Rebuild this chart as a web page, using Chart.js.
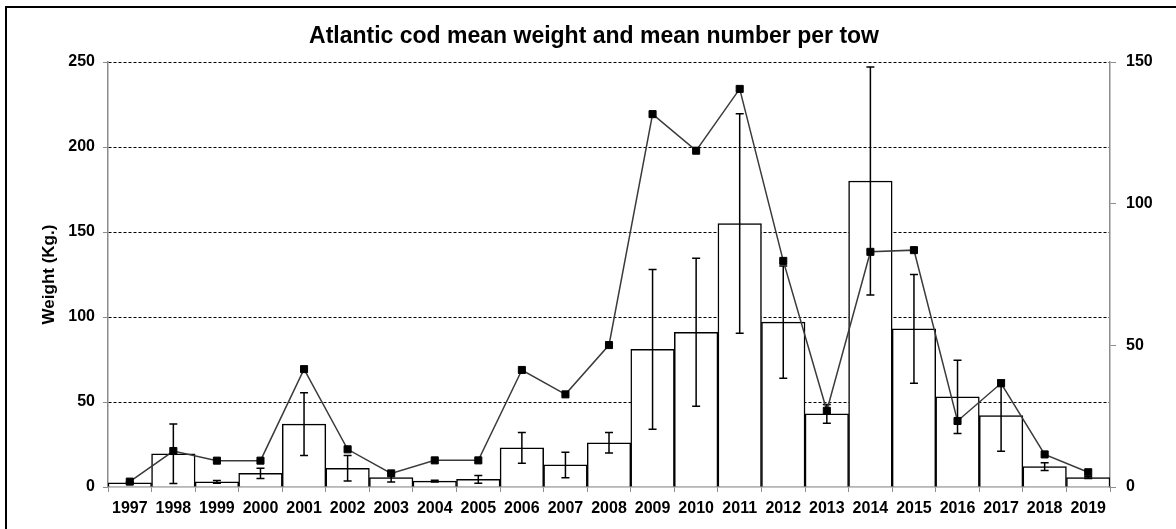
<!DOCTYPE html>
<html>
<head>
<meta charset="utf-8">
<script src="https://cdn.jsdelivr.net/npm/chart.js@4"></script>
<style>
    html, body { margin: 0; padding: 0; background: #fff; overflow: hidden; }
    #wrap { position: relative; width: 1176px; height: 529px; }
    #frame {
        position: absolute; left: 5px; top: 6px; width: 1180px; height: 540px;
        border-top: 2px solid #000; border-left: 2px solid #000; pointer-events: none;
    }
</style>
</head>
<body>
<div id="wrap">
    <canvas id="chart" width="1176" height="529"></canvas>
    <div id="frame"></div>
</div>
<script>
var years = ['1997', '1998', '1999', '2000', '2001', '2002', '2003', '2004', '2005', '2006', '2007', '2008',
    '2009', '2010', '2011', '2012', '2013', '2014', '2015', '2016', '2017', '2018', '2019'];

// mean weight per tow (kg), left axis
var weight = [2.5, 19.5, 3, 8, 37, 11, 5.5, 3.5, 4.5, 23, 13, 26,
    81, 91, 155, 97, 43, 180, 93, 53, 42, 12, 5.5];

// +/- error on the weight
var weightErr = [0.5, 17.5, 0.8, 3, 18.5, 7.5, 2.5, 0.5, 2.3, 9, 7.5, 6,
    47, 43.5, 64.5, 33, 5.5, 67, 32, 21.5, 21, 2.3, 0.5];

// mean number per tow, right axis
var number = [1.9, 12.7, 9.3, 9.3, 41.6, 13.3, 4.8, 9.4, 9.4, 41.3, 32.7, 50.1,
    131.6, 118.7, 140.5, 79.8, 26.9, 83, 83.6, 23.3, 36.6, 11.5, 5.2];

var FONT = '"Liberation Sans", Arial, sans-serif';
var AXIS_GRAY = '#8c8c8c';

// draws the error bars right after the bars, before the line
var errorBars = {
    id: 'errorBars',
    afterDatasetDraw: function (chart, args) {
        if (args.index !== 0) return;
        var yScale = chart.scales.y;
        var ctx = chart.ctx;
        ctx.save();
        ctx.strokeStyle = '#000';
        ctx.lineWidth = 1.5;
        args.meta.data.forEach(function (bar, i) {
            var hi = yScale.getPixelForValue(weight[i] + weightErr[i]);
            var lo = yScale.getPixelForValue(Math.max(0, weight[i] - weightErr[i]));
            var x = bar.x;
            ctx.beginPath();
            ctx.moveTo(x, hi); ctx.lineTo(x, lo);
            ctx.moveTo(x - 4, hi); ctx.lineTo(x + 4, hi);
            ctx.moveTo(x - 4, lo); ctx.lineTo(x + 4, lo);
            ctx.stroke();
        });
        ctx.restore();
    }
};

new Chart(document.getElementById('chart').getContext('2d'), {
    type: 'bar',
    data: {
        labels: years,
        datasets: [{
            type: 'bar',
            label: 'Mean weight',
            data: weight,
            yAxisID: 'y',
            backgroundColor: '#fff',
            borderColor: '#000',
            borderWidth: 1.5,
            categoryPercentage: 1,
            barPercentage: 1,
            order: 1
        }, {
            type: 'line',
            label: 'Mean number',
            data: number,
            yAxisID: 'y1',
            borderColor: '#3a3a3a',
            borderWidth: 1.5,
            pointStyle: 'rect',
            pointRadius: 5,
            pointBackgroundColor: '#000',
            pointBorderColor: '#000',
            pointBorderWidth: 1,
            tension: 0,
            order: 0
        }]
    },
    options: {
        responsive: false,
        animation: false,
        layout: { padding: { left: 12, right: 0, top: 0, bottom: 0 } },
        plugins: {
            legend: { display: false },
            tooltip: { enabled: false },
            title: {
                display: true,
                text: 'Atlantic cod mean weight and mean number per tow',
                color: '#000',
                font: { family: FONT, size: 23, weight: 'bold' },
                padding: { top: 23, bottom: 11.4 }
            }
        },
        scales: {
            x: {
                offset: true,
                afterFit: function (s) { s.height = 42; },
                grid: { offset: true, drawOnChartArea: false, color: AXIS_GRAY, tickLength: 5 },
                border: { color: AXIS_GRAY, width: 1.5 },
                ticks: { color: '#000', padding: 7, maxRotation: 0, autoSkip: false,
                    font: { family: FONT, size: 16, weight: 'bold' } }
            },
            y: {
                position: 'left',
                min: 0, max: 250,
                afterFit: function (s) { s.width = 96; },
                grid: {
                    color: function (c) { return c.tick && c.tick.value === 0 ? 'rgba(0,0,0,0)' : '#000'; },
                    tickColor: AXIS_GRAY,
                    tickLength: 5,
                    lineWidth: 1
                },
                border: { color: AXIS_GRAY, width: 1.5, dash: [3, 2] },
                ticks: { stepSize: 50, color: '#000', padding: 8,
                    font: { family: FONT, size: 16, weight: 'bold' } },
                title: {
                    display: true,
                    text: 'Weight (Kg.)',
                    color: '#000',
                    font: { family: FONT, size: 17, weight: 'bold' },
                    padding: { top: 27, bottom: 0 }
                }
            },
            y1: {
                position: 'right',
                min: 0, max: 150,
                afterFit: function (s) { s.width = 66; },
                grid: { drawOnChartArea: false, color: AXIS_GRAY, tickLength: 6 },
                border: { color: AXIS_GRAY, width: 1.5 },
                ticks: { stepSize: 50, color: '#000', padding: 10,
                    font: { family: FONT, size: 16, weight: 'bold' } }
            }
        }
    },
    plugins: [errorBars]
});
</script>
</body>
</html>
